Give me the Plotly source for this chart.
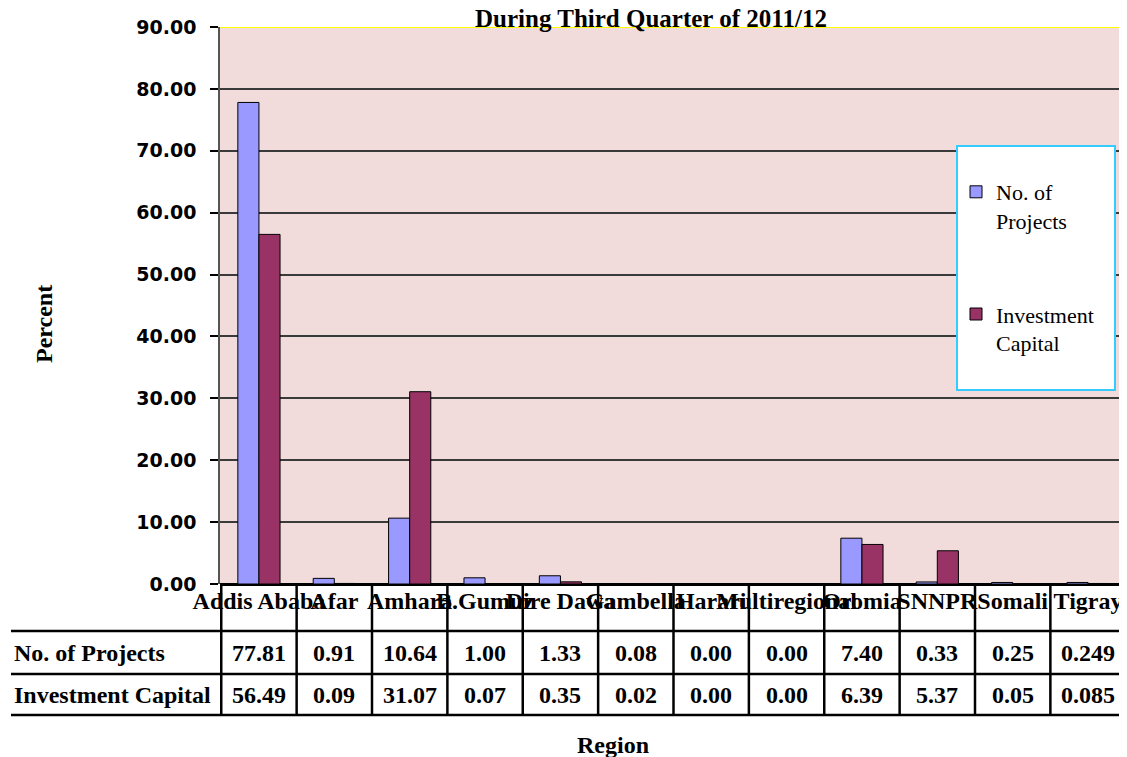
import plotly.graph_objects as go

# ---- data ----
regions = ["Addis Ababa", "Afar", "Amhara", "B.Gumuz", "Dire Dawa", "Gambella",
           "Harari", "Multiregional", "Oromia", "SNNPR", "Somali", "Tigray"]
projects = [77.81, 0.91, 10.64, 1.00, 1.33, 0.08, 0.00, 0.00, 7.40, 0.33, 0.25, 0.249]
capital = [56.49, 0.09, 31.07, 0.07, 0.35, 0.02, 0.00, 0.00, 6.39, 5.37, 0.05, 0.085]
table_decimals = [2, 2, 2, 2, 2, 2, 2, 2, 2, 2, 2, 3]
series_names = ["No. of Projects", "Investment Capital"]
legend_names = ["No. of<br>Projects", "Investment<br>Capital"]
y_ticks = [0, 10, 20, 30, 40, 50, 60, 70, 80, 90]
title_text = "During Third Quarter of 2011/12"
x_title = "Region"
y_title = "Percent"

# ---- layout geometry (screen pixels; page body has an 8px margin) ----
OFF = 8
W, H = 1127 - OFF, 757 - OFF
PL, PR, PT, PB = 220, 1127, 27, 584
TBL_TOP, TBL_MID, TBL_BOT, TBL_LEFT = 631, 674, 715, 11

def py(p):
    return 1 - (p - OFF) / H

def px(p):
    return (p - OFF) / W

BLUE = "#9999FF"
MAROON = "#993366"
SERIF = "Liberation Serif"

fig = go.Figure()
fig.add_trace(go.Bar(x=regions, y=projects, name=legend_names[0], legendgroup="a",
                     marker=dict(color=BLUE, line=dict(color="black", width=1))))
fig.add_trace(go.Bar(x=regions, y=capital, name=legend_names[1], legendgroup="b",
                     marker=dict(color=MAROON, line=dict(color="black", width=1))))

shapes = []
# legend box
shapes.append(dict(type="rect", xref="paper", yref="paper", x0=px(957), x1=px(1115),
                   y0=py(390), y1=py(146), fillcolor="white",
                   line=dict(color="#33CCFF", width=2), layer="above"))
# yellow top border at 90
shapes.append(dict(type="line", xref="paper", yref="y", x0=px(PL), x1=1, y0=90, y1=90,
                   line=dict(color="#FFFF00", width=2), layer="below"))
# table horizontal lines
for yy in (TBL_TOP, TBL_MID, TBL_BOT):
    shapes.append(dict(type="line", xref="paper", yref="paper", x0=px(TBL_LEFT), x1=1,
                       y0=py(yy), y1=py(yy), line=dict(color="black", width=2.5)))
# category boundaries
for i in range(len(regions) + 1):
    shapes.append(dict(type="line", xref="x", yref="paper", x0=i - 0.5, x1=i - 0.5,
                       y0=py(TBL_BOT), y1=py(PB), line=dict(color="black", width=2.5)))

annotations = []
# title
annotations.append(dict(text="<b>" + title_text + "</b>", xref="paper", yref="paper",
                        x=px(651), y=py(19), showarrow=False, xanchor="center", yanchor="middle",
                        font=dict(family=SERIF, size=25, color="black")))
# axis titles
annotations.append(dict(text="<b>" + x_title + "</b>", xref="paper", yref="paper",
                        x=px(613), y=py(745), showarrow=False, xanchor="center", yanchor="middle",
                        font=dict(family=SERIF, size=24, color="black")))
annotations.append(dict(text="<b>" + y_title + "</b>", xref="paper", yref="paper",
                        x=px(44), y=py(324), showarrow=False, xanchor="center", yanchor="middle",
                        textangle=-90, font=dict(family=SERIF, size=24, color="black")))
# table row labels
for name, yc in zip(series_names, ((TBL_TOP + TBL_MID) / 2, (TBL_MID + TBL_BOT) / 2)):
    annotations.append(dict(text="<b>" + name + "</b>", xref="paper", yref="paper",
                            x=px(12), y=py(yc), showarrow=False, xanchor="left", yanchor="middle",
                            font=dict(family=SERIF, size=24, color="black")))
# table values
for i, r in enumerate(regions):
    for vals, yc in ((projects, (TBL_TOP + TBL_MID) / 2), (capital, (TBL_MID + TBL_BOT) / 2)):
        annotations.append(dict(text="<b>" + f"{vals[i]:.{table_decimals[i]}f}" + "</b>",
                                xref="x", yref="paper", x=i, y=py(yc), showarrow=False,
                                xanchor="center", yanchor="middle",
                                font=dict(family=SERIF, size=24, color="black")))

fig.update_layout(
    width=W, height=H,
    margin=dict(l=0, r=0, t=0, b=0, pad=0, autoexpand=False),
    paper_bgcolor="white",
    plot_bgcolor="#F2DCDB",
    barmode="group", bargap=0.44, bargroupgap=0,
    showlegend=True,
    legend=dict(x=px(956), y=py(171), xanchor="left", yanchor="top",
                bgcolor="rgba(0,0,0,0)", borderwidth=0, traceorder="grouped",
                tracegroupgap=62, valign="top",
                font=dict(family=SERIF, size=22, color="black")),
    shapes=shapes,
    annotations=annotations,
    xaxis=dict(domain=[px(PL), px(PR)], type="category", tickangle=0, ticks="",
               showline=False, showgrid=False, automargin=False,
               tickfont=dict(family=SERIF, size=24, color="black", weight="bold"),
               ticklabelstandoff=0),
    yaxis=dict(domain=[py(PB), py(PT)], range=[0, 90], tickvals=y_ticks,
               tickformat=".2f", ticks="outside", ticklen=8, tickwidth=2, tickcolor="black",
               ticklabelstandoff=10, automargin=False,
               showgrid=True, gridcolor="#3a3a3a", gridwidth=1.5,
               zeroline=True, zerolinecolor="black", zerolinewidth=2.5,
               showline=True, linecolor="#555555", linewidth=1.5,
               tickfont=dict(family="DejaVu Sans", size=19, color="black", weight="bold")),
)

fig.write_html("out.html")
